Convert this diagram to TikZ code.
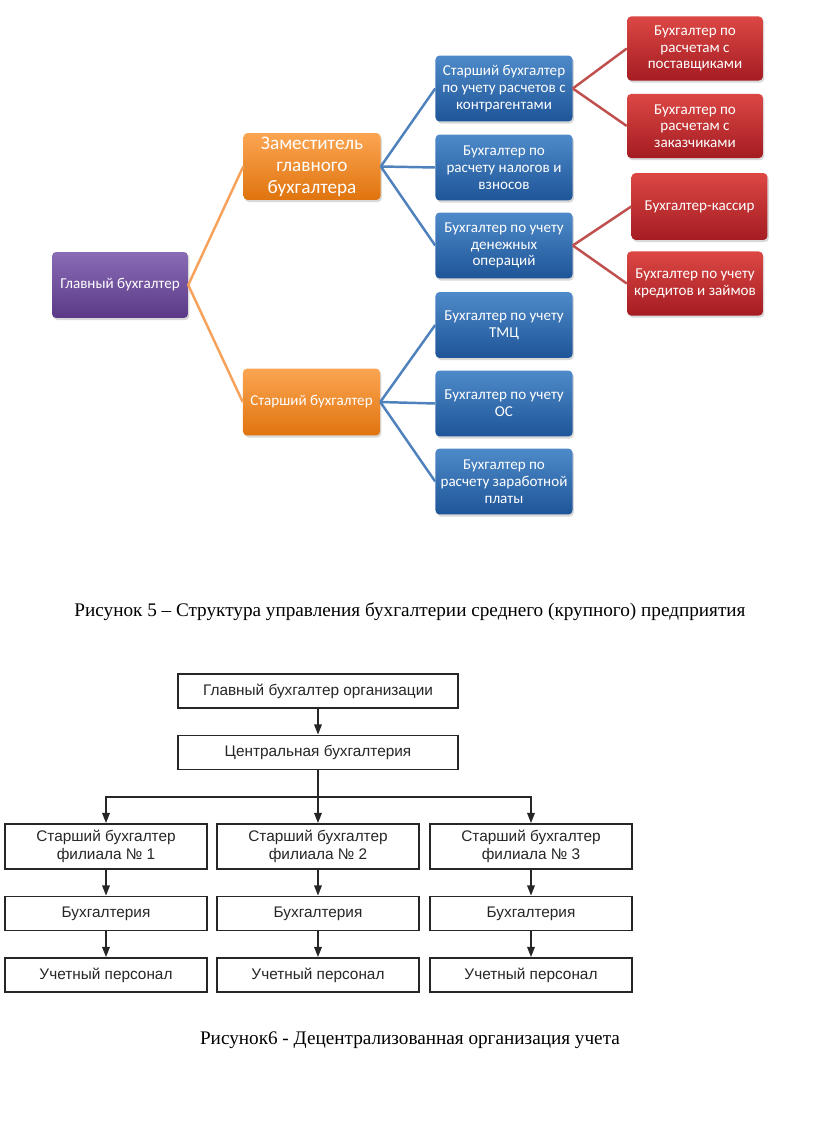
\documentclass[tikz,border=0pt]{standalone}
\usepackage{fontspec}
\setmainfont{Liberation Serif}
\newfontfamily\smartfont{Carlito}
\newfontfamily\blockfont{Liberation Sans}
\usetikzlibrary{shadows,arrows.meta}
%
\definecolor{purpleTop}{HTML}{8A6BB6}
\definecolor{purpleBot}{HTML}{5A3A86}
\definecolor{orangeTop}{HTML}{FBA552}
\definecolor{orangeBot}{HTML}{E0740E}
\definecolor{blueTop}{HTML}{4E8AC9}
\definecolor{blueBot}{HTML}{1E5598}
\definecolor{redTop}{HTML}{DC4744}
\definecolor{redBot}{HTML}{A41C22}
\definecolor{orangeLine}{HTML}{F6A25C}
\definecolor{blueLine}{HTML}{4F81BD}
\definecolor{redLine}{HTML}{C0504D}
%
\tikzset{
  smartbox/.style={rounded corners=3pt, text=white, align=center, inner sep=2pt,
    font=\smartfont\fontsize{11}{12.2}\selectfont,
    drop shadow={shadow xshift=1pt, shadow yshift=-1.5pt, opacity=0.3}},
  chiefbox/.style={smartbox, top color=purpleTop, bottom color=purpleBot,
    minimum width=99.1pt, minimum height=48.1pt},
  deputybox/.style={smartbox, top color=orangeTop, bottom color=orangeBot,
    minimum width=99.9pt, minimum height=48.8pt},
  staffbox/.style={smartbox, top color=blueTop, bottom color=blueBot,
    minimum width=99.9pt, minimum height=48.1pt},
  clerkbox/.style={smartbox, top color=redTop, bottom color=redBot,
    minimum width=99.1pt, minimum height=46.7pt},
  orangeedge/.style={draw=orangeLine, line width=1.8pt},
  blueedge/.style={draw=blueLine, line width=1.8pt},
  rededge/.style={draw=redLine, line width=1.8pt},
  block/.style={draw=black!85, line width=1.3pt, fill=white, text=black!85, align=center,
    font=\blockfont\fontsize{11.2}{13.5}\selectfont, minimum width=147.3pt, minimum height=24.8pt},
  flow/.style={-{Triangle[length=7.5pt,width=5.5pt]}, line width=1.3pt, draw=black!85},
  caption/.style={font=\fontsize{14}{16}\selectfont}
}
%
\begin{document}
\begin{tikzpicture}[x=0.729pt,y=-0.729pt]
\useasboundingbox (0,0) rectangle (816,1121);
%
% Рисунок 5
\node[chiefbox] (gb) at (120,285) {Главный бухгалтер};
\node[deputybox, font=\smartfont\fontsize{14}{16}\selectfont] (zam) at (312,166.5) {Заместитель\\главного\\бухгалтера};
\node[deputybox] (sb) at (311.5,402) {Старший бухгалтер};
%
\node[staffbox] (b1) at (504,88.5) {Старший бухгалтер\\по учету расчетов с\\контрагентами};
\node[staffbox] (b2) at (504,167.5) {Бухгалтер по\\расчету налогов и\\взносов};
\node[staffbox] (b3) at (504,245.5) {Бухгалтер по учету\\денежных\\операций};
\node[staffbox] (b4) at (504,325) {Бухгалтер по учету\\ТМЦ};
\node[staffbox] (b5) at (504,403.5) {Бухгалтер по учету\\ОС};
\node[staffbox] (b6) at (504,481.5) {Бухгалтер по\\расчету заработной\\платы};
%
\node[clerkbox] (r1) at (695,48.5) {Бухгалтер по\\расчетам с\\поставщиками};
\node[clerkbox] (r2) at (695,126) {Бухгалтер по\\расчетам с\\заказчиками};
\node[clerkbox, minimum height=48.8pt] (r3) at (699.5,206.5) {Бухгалтер-кассир};
\node[clerkbox] (r4) at (695,283.5) {Бухгалтер по учету\\кредитов и займов};
%
\draw[orangeedge] (gb.east) -- (zam.west);
\draw[orangeedge] (gb.east) -- (sb.west);
\foreach \n in {b1,b2,b3} \draw[blueedge] (zam.east) -- (\n.west);
\foreach \n in {b4,b5,b6} \draw[blueedge] (sb.east) -- (\n.west);
\foreach \n in {r1,r2} \draw[rededge] (b1.east) -- (\n.west);
\foreach \n in {r3,r4} \draw[rededge] (b3.east) -- (\n.west);
%
\node[caption] (cap5) at (410,612) {Рисунок 5 – Структура управления бухгалтерии среднего (крупного) предприятия};
%
% Рисунок 6
\node[block, minimum width=204.1pt] (org) at (318,691) {Главный бухгалтер организации};
\node[block, minimum width=204.1pt] (cb) at (318,752.5) {Центральная бухгалтерия};
\node[block, minimum height=32.8pt] (s1) at (106,846.5) {Старший бухгалтер\\филиала № 1};
\node[block, minimum height=32.8pt] (s2) at (318,846.5) {Старший бухгалтер\\филиала № 2};
\node[block, minimum height=32.8pt] (s3) at (531,846.5) {Старший бухгалтер\\филиала № 3};
\foreach \i/\x in {1/106,2/318,3/531} {
  \node[block] (a\i) at (\x,913.5) {Бухгалтерия};
  \node[block] (p\i) at (\x,975) {Учетный персонал};
  \draw[flow] (s\i) -- (a\i);
  \draw[flow] (a\i) -- (p\i);
}
\coordinate (bus) at (318,797);
\draw[flow] (org) -- (cb);
\draw[flow] (cb) -- (s2);
\draw[flow] (bus) -| (s1.north);
\draw[flow] (bus) -| (s3.north);
%
\node[caption] (cap6) at (410,1040) {Рисунок6 - Децентрализованная организация учета};
%
\end{tikzpicture}
\end{document}
